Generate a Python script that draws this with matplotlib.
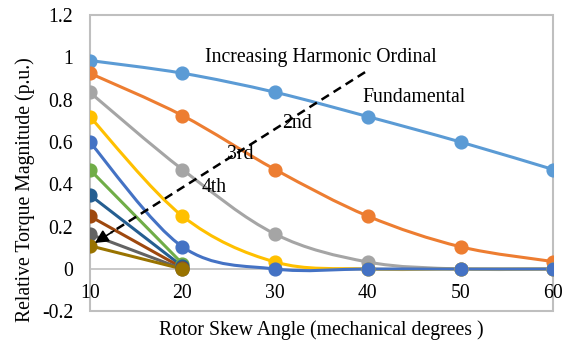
import matplotlib
matplotlib.use("Agg")
import matplotlib.pyplot as plt
from matplotlib.path import Path
from matplotlib.patches import PathPatch, Rectangle

# chart data
skew_angle = [10, 20, 30, 40, 50, 60]
harmonic_names = ["Fundamental", "2nd", "3rd", "4th", "5th",
                  "6th", "7th", "8th", "9th", "10th"]
fundamental = [0.985, 0.925, 0.835, 0.72, 0.60, 0.47]
h2 = [0.925, 0.725, 0.47, 0.25, 0.105, 0.035]
h3 = [0.835, 0.47, 0.165, 0.033, 0.0, 0.0]
h4 = [0.72, 0.25, 0.033, 0.0, 0.0, 0.0]
h5 = [0.60, 0.105, 0.0, 0.0, 0.0, 0.0]
# higher harmonics only have points at 10 and 20 degrees
h6 = [0.47, 0.025]
h7 = [0.35, 0.012]
h8 = [0.25, 0.005]
h9 = [0.165, 0.0]
h10 = [0.11, 0.0]
series = [fundamental, h2, h3, h4, h5, h6, h7, h8, h9, h10]

colors = ["#5B9BD5", "#ED7D31", "#A5A5A5", "#FFC000", "#4472C4",
          "#70AD47", "#255E91", "#9E480E", "#636363", "#997300"]

plt.rcParams["font.family"] = ["Liberation Serif", "DejaVu Serif"]
fs = 14.2


def smooth_path(xs, ys):
    # Excel-style smoothed line: cubic Bezier segments through the points
    pts = list(zip(xs, ys))
    verts = [pts[0]]
    codes = [Path.MOVETO]
    n = len(pts)
    for i in range(n - 1):
        p0 = pts[i - 1] if i > 0 else pts[i]
        p1 = pts[i]
        p2 = pts[i + 1]
        p3 = pts[i + 2] if i + 2 < n else pts[i + 1]
        c1 = (p1[0] + (p2[0] - p0[0]) / 6, p1[1] + (p2[1] - p0[1]) / 6)
        c2 = (p2[0] - (p3[0] - p1[0]) / 6, p2[1] - (p3[1] - p1[1]) / 6)
        verts += [c1, c2, p2]
        codes += [Path.CURVE4] * 3
    return Path(verts, codes)


fig = plt.figure(figsize=(5.68, 3.41), dpi=100)
ax = fig.add_axes([0.158, 0.087, 0.816, 0.869])

for vals, col in zip(series, colors):
    xs = skew_angle[:len(vals)]
    ax.add_patch(PathPatch(smooth_path(xs, vals), fill=False,
                           edgecolor=col, lw=2.2, capstyle="round"))
    ax.plot(xs, vals, linestyle="none", marker="o", markersize=9.2,
            color=col, markeredgecolor=col)

ax.set_xlim(10, 60)
ax.set_ylim(-0.2, 1.2)
ax.set_xticks(skew_angle)
ax.set_yticks([-0.2, 0, 0.2, 0.4, 0.6, 0.8, 1.0, 1.2])
ax.set_yticklabels(["-0.2", "0", "0.2", "0.4", "0.6", "0.8", "1", "1.2"])

# horizontal axis crosses at zero, plot area has a grey border
for side in ["top", "right", "left"]:
    ax.spines[side].set_visible(False)
ax.spines["bottom"].set_position(("data", 0))
ax.spines["bottom"].set_color("#BFBFBF")
ax.spines["bottom"].set_linewidth(1.2)
ax.spines["bottom"].set_zorder(0)
ax.add_patch(Rectangle((0, 0), 1, 1, transform=ax.transAxes, fill=False,
                       edgecolor="#BFBFBF", lw=1.5, clip_on=False, zorder=0))
ax.tick_params(axis="both", length=0, labelsize=fs)
ax.tick_params(axis="y", pad=12)
ax.tick_params(axis="x", pad=11)

ax.set_xlabel("Rotor Skew Angle (mechanical degrees )", fontsize=fs)
ax.xaxis.set_label_coords(0.5, -0.065)
ax.xaxis.label.set_verticalalignment("center")
ax.set_ylabel("Relative Torque Magnitude (p.u.)", fontsize=fs)
ax.yaxis.set_label_coords(-0.14, 0.41)
ax.yaxis.label.set_verticalalignment("center")

# dashed arrow: dashed shaft plus a solid head
arrow_start = (39.7, 0.93)
arrow_tip = (10.55, 0.123)
ax.plot([arrow_start[0], 12.3], [arrow_start[1], 0.172], color="black",
        lw=1.8, linestyle=(0, (3.5, 2.2)), zorder=5)
ax.annotate("", xy=arrow_tip, xytext=(12.6, 0.18),
            arrowprops=dict(arrowstyle="-|>", color="black", lw=1.2,
                            mutation_scale=20, shrinkA=0, shrinkB=0),
            zorder=6)

ax.text(22.4, 1.0, "Increasing Harmonic Ordinal", fontsize=fs,
        va="center", ha="left")
ax.text(39.4, 0.81, "Fundamental", fontsize=fs, va="center", ha="left")
ax.text(30.7, 0.687, "2nd", fontsize=fs, va="center", ha="left")
ax.text(24.8, 0.54, "3rd", fontsize=fs, va="center", ha="left")
ax.text(22.1, 0.386, "4th", fontsize=fs, va="center", ha="left")

fig.savefig("out.png", dpi=100)
